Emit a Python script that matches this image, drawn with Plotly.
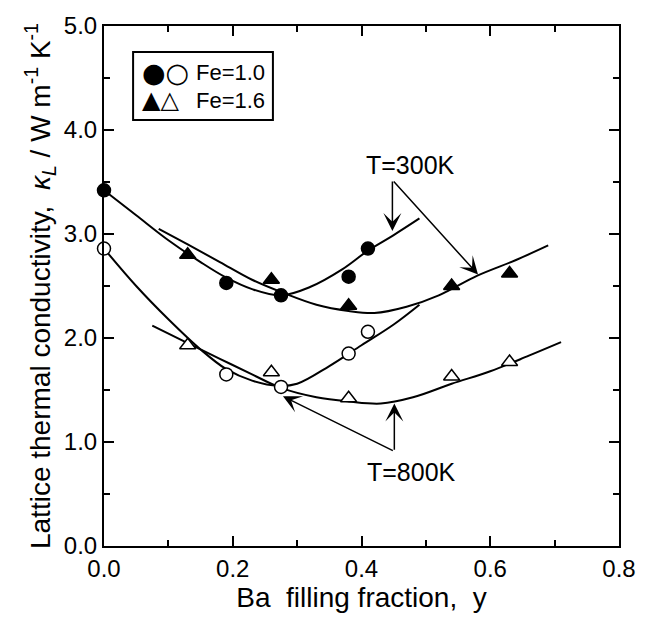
import plotly.graph_objects as go

# Measured lattice thermal conductivity (W m^-1 K^-1) vs Ba filling fraction
fe10_fill = [0.0, 0.19, 0.275, 0.38, 0.41]
fe10_k300 = [3.42, 2.53, 2.41, 2.59, 2.86]
fe10_k800 = [2.86, 1.65, 1.53, 1.85, 2.06]

fe16_fill = [0.13, 0.26, 0.38, 0.54, 0.63]
fe16_k300 = [2.80, 2.56, 2.31, 2.50, 2.62]
fe16_k800 = [1.93, 1.67, 1.42, 1.63, 1.77]

# Hand-drawn guide curves through each data set
guide_fe10_300_x = [0.0, 0.05, 0.10, 0.15, 0.19, 0.23, 0.275, 0.32, 0.37, 0.41, 0.45, 0.49]
guide_fe10_300_y = [3.42, 3.18, 2.94, 2.73, 2.58, 2.47, 2.41, 2.49, 2.66, 2.84, 2.99, 3.15]
guide_fe16_300_x = [0.085, 0.13, 0.18, 0.23, 0.28, 0.33, 0.38, 0.42, 0.47, 0.52, 0.58, 0.64, 0.69]
guide_fe16_300_y = [3.05, 2.90, 2.73, 2.56, 2.43, 2.32, 2.26, 2.24, 2.30, 2.41, 2.60, 2.75, 2.89]
guide_fe10_800_x = [0.0, 0.05, 0.10, 0.15, 0.19, 0.23, 0.27, 0.30, 0.35, 0.40, 0.45, 0.49]
guide_fe10_800_y = [2.86, 2.50, 2.18, 1.89, 1.70, 1.59, 1.54, 1.56, 1.73, 1.93, 2.13, 2.32]
guide_fe16_800_x = [0.075, 0.13, 0.18, 0.23, 0.275, 0.33, 0.38, 0.43, 0.48, 0.54, 0.60, 0.66, 0.71]
guide_fe16_800_y = [2.12, 1.95, 1.80, 1.65, 1.52, 1.43, 1.39, 1.37, 1.43, 1.56, 1.68, 1.83, 1.96]

FONT = "Liberation Sans, Arial, Helvetica, sans-serif"
BLACK = "#000000"

fig = go.Figure()

for gx, gy in [(guide_fe10_300_x, guide_fe10_300_y), (guide_fe16_300_x, guide_fe16_300_y),
               (guide_fe10_800_x, guide_fe10_800_y), (guide_fe16_800_x, guide_fe16_800_y)]:
    fig.add_trace(go.Scatter(x=gx, y=gy, mode="lines",
                             line=dict(color=BLACK, width=2, shape="spline", smoothing=1.0),
                             hoverinfo="skip", showlegend=False))

def markers(x, y, symbol, filled):
    return go.Scatter(
        x=x, y=y, mode="markers", showlegend=False, cliponaxis=False,
        marker=dict(symbol=symbol, size=13 if "circle" in symbol else 14,
                    color=BLACK if filled else "white",
                    line=dict(color=BLACK, width=1.5)))

fig.add_trace(markers(fe10_fill, fe10_k300, "circle", True))
fig.add_trace(markers(fe10_fill, fe10_k800, "circle", False))
fig.add_trace(markers(fe16_fill, fe16_k300, "triangle-up", True))
fig.add_trace(markers(fe16_fill, fe16_k800, "triangle-up", False))

axis_common = dict(
    showline=True, linecolor=BLACK, linewidth=2, mirror="allticks",
    ticks="inside", ticklen=10, tickwidth=1.5, tickcolor=BLACK,
    showgrid=False, zeroline=False, tickformat=".1f",
    tickfont=dict(family=FONT, size=24, color=BLACK),
)

fig.update_xaxes(range=[0, 0.8], dtick=0.2, tick0=0, ticklabeloverflow="allow",
                 minor=dict(dtick=0.1, ticks="inside", ticklen=6, tickcolor=BLACK, tickwidth=1.5),
                 title=dict(text="Ba\u00a0\u00a0filling fraction,\u00a0\u00a0y",
                            font=dict(family=FONT, size=28, color=BLACK), standoff=2),
                 **axis_common)
fig.update_yaxes(range=[0, 5], dtick=1, tick0=0,
                 minor=dict(dtick=0.5, ticks="inside", ticklen=6, tickcolor=BLACK, tickwidth=1.5),
                 title=dict(text="Lattice thermal conductivity,\u00a0\u00a0<i>\u03ba<sub>L</sub></i> / W m<sup>-1</sup> K<sup>-1</sup>",
                            font=dict(family=FONT, size=28, color=BLACK), standoff=5),
                 **axis_common)

annotations = []
# temperature labels
annotations.append(dict(x=0.476, y=3.66, xref="x", yref="y", text="T=300K", showarrow=False,
                        font=dict(family=FONT, size=25, color=BLACK)))
annotations.append(dict(x=0.478, y=0.71, xref="x", yref="y", text="T=800K", showarrow=False,
                        font=dict(family=FONT, size=25, color=BLACK)))

def arrow(x0, y0, x1, y1):
    return dict(x=x1, y=y1, ax=x0, ay=y0, xref="x", yref="y", axref="x", ayref="y",
                text="", showarrow=True, arrowhead=3, arrowsize=2.0, arrowwidth=1.5,
                arrowcolor=BLACK)

annotations.append(arrow(0.448, 3.52, 0.448, 3.03))
annotations.append(arrow(0.448, 3.52, 0.581, 2.61))
annotations.append(arrow(0.451, 0.91, 0.451, 1.37))
annotations.append(arrow(0.451, 0.91, 0.278, 1.44))

# legend box content
annotations.append(dict(x=0.070, y=0.910, xref="paper", yref="paper", xanchor="left", yanchor="middle",
                        text="\u25cf\u25cb", showarrow=False,
                        font=dict(family="DejaVu Sans", size=27, color=BLACK)))
annotations.append(dict(x=0.070, y=0.857, xref="paper", yref="paper", xanchor="left", yanchor="middle",
                        text="\u25b2\u25b3", showarrow=False,
                        font=dict(family="DejaVu Sans", size=24, color=BLACK)))
annotations.append(dict(x=0.175, y=0.910, xref="paper", yref="paper", xanchor="left", yanchor="middle",
                        text="Fe=1.0", showarrow=False, font=dict(family=FONT, size=22, color=BLACK)))
annotations.append(dict(x=0.175, y=0.857, xref="paper", yref="paper", xanchor="left", yanchor="middle",
                        text="Fe=1.6", showarrow=False, font=dict(family=FONT, size=22, color=BLACK)))

fig.add_shape(type="rect", xref="paper", yref="paper", x0=0.0565, x1=0.328, y0=0.819, y1=0.95,
              line=dict(color=BLACK, width=2), fillcolor="white", layer="below")

fig.update_layout(
    width=648, height=620,
    margin=dict(l=104, r=13, t=26, b=74),
    paper_bgcolor="white", plot_bgcolor="white",
    annotations=annotations,
    showlegend=False,
)

fig.write_html("out.html")
